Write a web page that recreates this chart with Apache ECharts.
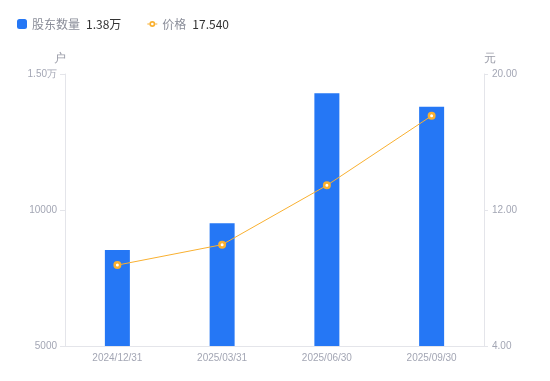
<!DOCTYPE html>
<html><head><meta charset="utf-8">
<script src="https://cdn.jsdelivr.net/npm/echarts@6/dist/echarts.min.js"></script>
<style>html,body{margin:0;padding:0;background:#fff}#c{width:550px;height:381px}</style>
</head><body><div id="c"></div>
<script>
var categories = ['2024/12/31', '2025/03/31', '2025/06/30', '2025/09/30'];
var holders = [8530, 9510, 14290, 13800];
var prices = [8.76, 9.96, 13.45, 17.54];
var legendValues = {'股东数量': '1.38万', '价格': '17.540'};

var orange = '#f9b030';
var chart = echarts.init(document.getElementById('c'));
var labelColor = '#a3a6b4';
var lineColor = '#e4e5ea';
var lineIcon = 'path://M0,0h0.01v0.01h-0.01z M10,10h-0.01v-0.01h0.01z M0,4.4h2.2v1.2h-2.2z M7.8,4.4h2.2v1.2h-2.2z M2,5a3,3 0 1,0 6,0a3,3 0 1,0 -6,0z M3.7,5a1.3,1.3 0 1,1 2.6,0a1.3,1.3 0 1,1 -2.6,0z';
chart.setOption({
  animation: false,
  legend: {
    left: 12, top: 13,
    itemWidth: 10, itemHeight: 10, itemGap: 26,
    data: [
      {name: '股东数量', icon: 'roundRect'},
      {name: '价格', icon: lineIcon, itemStyle: {color: orange, borderWidth: 0}}
    ],
    formatter: function (n) { return '{n|' + n + '}{v|' + legendValues[n] + '}'; },
    textStyle: {
      rich: {
        n: {fontSize: 12, color: '#8a8d99', padding: [0, 6, 0, 0], fontFamily: 'Noto Sans CJK SC'},
        v: {fontSize: 12, color: '#333', fontFamily: 'Noto Sans CJK SC'}
      }
    }
  },
  grid: {left: 65, right: 66, top: 74, bottom: 35},
  xAxis: {
    type: 'category', data: categories,
    axisLine: {lineStyle: {color: lineColor}},
    axisTick: {show: false},
    axisLabel: {color: labelColor, fontSize: 10, margin: 7}
  },
  yAxis: [{
    type: 'value', min: 5000, max: 15000, interval: 5000,
    name: '户', nameGap: 9,
    nameTextStyle: {color: '#9a9ca8', fontSize: 12, align: 'right', padding: [0, -1, 0, 0]},
    axisLine: {show: true, lineStyle: {color: lineColor}},
    axisTick: {show: true, length: 5, lineStyle: {color: lineColor}},
    splitLine: {show: false},
    axisLabel: {color: labelColor, fontSize: 10, margin: 8,
      formatter: function (v) { return v > 10000 ? (v / 10000).toFixed(2) + '万' : v; }}
  }, {
    type: 'value', min: 4, max: 20, interval: 8,
    name: '元', nameGap: 9,
    nameTextStyle: {color: '#9a9ca8', fontSize: 12, align: 'left'},
    axisLine: {show: true, lineStyle: {color: lineColor}},
    axisTick: {show: true, length: 4, lineStyle: {color: lineColor}},
    splitLine: {show: false},
    axisLabel: {color: labelColor, fontSize: 10, margin: 8,
      formatter: function (v) { return v.toFixed(2); }}
  }],
  series: [{
    name: '股东数量', type: 'bar', data: holders, barWidth: 25,
    itemStyle: {color: '#2577f5'}
  }, {
    name: '价格', type: 'line', yAxisIndex: 1, data: prices,
    symbol: 'circle', symbolSize: 5.5,
    itemStyle: {color: '#fff', borderColor: orange, borderWidth: 2.5},
    lineStyle: {color: orange, width: 1}
  }]
});
</script></body></html>
